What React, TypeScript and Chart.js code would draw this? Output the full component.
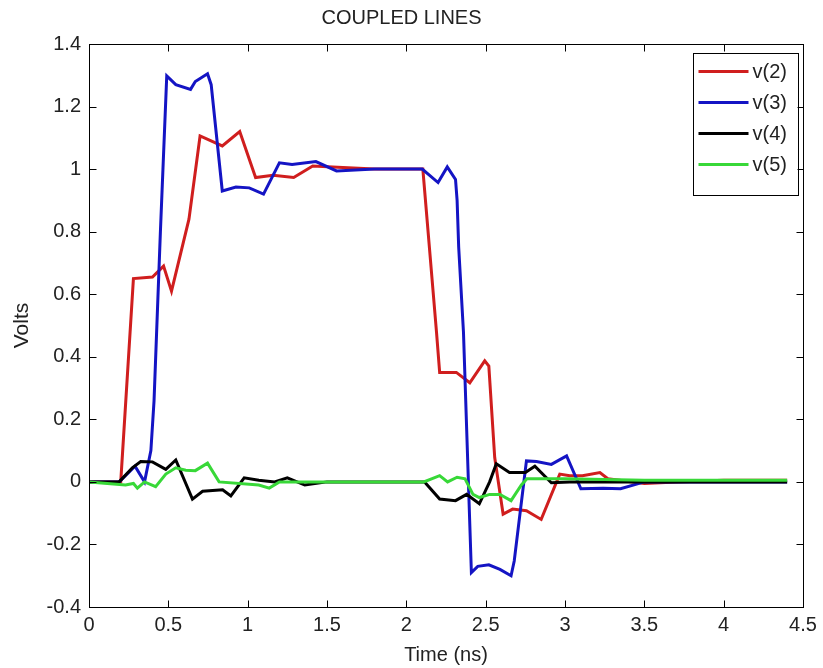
import React, { useEffect, useRef } from "react";
import { Chart, registerables } from "chart.js";

Chart.register(...registerables);

const chartTitle = "COUPLED LINES";
const xAxisLabel = "Time (ns)";
const yAxisLabel = "Volts";
const xTicksMin = 0;
const xTicksMax = 4.5;
const xTickStep = 0.5;
const yTicksMin = -0.4;
const yTicksMax = 1.4;
const yTickStep = 0.2;

const seriesNames = ["v(2)", "v(3)", "v(4)", "v(5)"];
const seriesColors = ["#d01e1e", "#1414c4", "#000000", "#38d838"];

const v2Time = [0, 0.2, 0.28, 0.4, 0.47, 0.52, 0.63, 0.7, 0.84, 0.95, 1.05, 1.16, 1.29, 1.41, 1.6, 1.8, 2.0, 2.104, 2.19, 2.21, 2.315, 2.4, 2.494, 2.52, 2.557, 2.61, 2.67, 2.757, 2.85, 2.967, 3.03, 3.11, 3.22, 3.27, 3.5, 3.7, 4.0, 4.4];
const v2Volts = [0, 0, 0.65, 0.655, 0.69, 0.61, 0.84, 1.106, 1.074, 1.12, 0.973, 0.98, 0.973, 1.01, 1.005, 1.0, 1.0, 1.0, 0.48, 0.35, 0.35, 0.317, 0.387, 0.37, 0.078, -0.103, -0.087, -0.092, -0.12, 0.025, 0.02, 0.02, 0.03, 0.01, -0.005, 0, 0.005, 0.005];

const v3Time = [0, 0.19, 0.29, 0.35, 0.39, 0.41, 0.45, 0.49, 0.547, 0.64, 0.67, 0.747, 0.77, 0.84, 0.926, 1.01, 1.1, 1.2, 1.28, 1.43, 1.56, 1.8, 2.1, 2.2, 2.258, 2.31, 2.32, 2.33, 2.36, 2.41, 2.45, 2.52, 2.59, 2.66, 2.68, 2.757, 2.82, 2.914, 3.01, 3.1, 3.24, 3.35, 3.5, 4.0, 4.4];
const v3Volts = [0, 0, 0.05, 0, 0.1, 0.26, 0.8, 1.298, 1.27, 1.255, 1.28, 1.305, 1.27, 0.93, 0.943, 0.94, 0.92, 1.02, 1.015, 1.024, 0.994, 1.0, 1.0, 0.957, 1.007, 0.967, 0.9, 0.75, 0.48, -0.29, -0.27, -0.265, -0.28, -0.3, -0.253, 0.067, 0.065, 0.056, 0.083, -0.022, -0.02, -0.022, 0, 0, 0];

const v4Time = [0, 0.19, 0.273, 0.326, 0.4, 0.484, 0.547, 0.652, 0.716, 0.842, 0.894, 0.978, 1.07, 1.17, 1.25, 1.36, 1.5, 2.115, 2.21, 2.31, 2.38, 2.46, 2.525, 2.567, 2.65, 2.75, 2.81, 2.914, 3.03, 3.5, 4.0, 4.4];
const v4Volts = [0, 0, 0.045, 0.065, 0.064, 0.04, 0.07, -0.055, -0.03, -0.025, -0.045, 0.013, 0.005, 0, 0.013, -0.01, 0, 0, -0.055, -0.06, -0.04, -0.07, 0, 0.058, 0.03, 0.03, 0.05, -0.003, 0, 0, 0, 0];

const v5Time = [0, 0.23, 0.28, 0.305, 0.35, 0.42, 0.484, 0.547, 0.61, 0.67, 0.747, 0.82, 1.07, 1.136, 1.2, 2.11, 2.21, 2.26, 2.32, 2.37, 2.42, 2.46, 2.525, 2.59, 2.66, 2.725, 2.76, 3.0, 3.5, 4.0, 4.4];
const v5Volts = [0, -0.01, -0.005, -0.02, 0, -0.015, 0.025, 0.045, 0.037, 0.036, 0.06, 0, -0.01, -0.02, 0, 0, 0.02, 0, 0.015, 0.01, -0.04, -0.05, -0.04, -0.04, -0.06, -0.01, 0.01, 0.01, 0.005, 0.005, 0.005];

const seriesTimes = [v2Time, v3Time, v4Time, v5Time];
const seriesVolts = [v2Volts, v3Volts, v4Volts, v5Volts];

const FONT = "'Liberation Sans', Arial, Helvetica, sans-serif";
const TEXT_COLOR = "#222222";

const fmt = (v: number) => String(Number(Number(v).toFixed(2)));

const boxAndLegendPlugin = {
  id: "boxAndLegend",
  afterDatasetsDraw(chart: any) {
    const { ctx, chartArea } = chart;
    const { left, right, top, bottom } = chartArea;
    const xs = chart.scales.x;
    const ys = chart.scales.y;
    ctx.save();
    ctx.strokeStyle = "#000";
    ctx.lineWidth = 1;
    const L = Math.round(left) + 0.5;
    const R = Math.round(right) + 0.5;
    const T = Math.round(top) + 0.5;
    const B = Math.round(bottom) + 0.5;
    ctx.strokeRect(L, T, R - L, B - T);
    const tl = 7;
    ctx.beginPath();
    xs.ticks.forEach((t: any) => {
      const px = Math.round(xs.getPixelForValue(t.value)) + 0.5;
      ctx.moveTo(px, B);
      ctx.lineTo(px, B - tl);
      ctx.moveTo(px, T);
      ctx.lineTo(px, T + tl);
    });
    ys.ticks.forEach((t: any) => {
      const py = Math.round(ys.getPixelForValue(t.value)) + 0.5;
      ctx.moveTo(L, py);
      ctx.lineTo(L + tl, py);
      ctx.moveTo(R, py);
      ctx.lineTo(R - tl, py);
    });
    ctx.stroke();

    // legend box
    const lgRight = R - 6;
    const lgLeft = lgRight - 105;
    const lgTop = T + 8;
    const rowH = 31;
    const firstRow = lgTop + 19;
    const lgBottom = firstRow + rowH * (seriesNames.length - 1) + 30;
    ctx.fillStyle = "#fff";
    ctx.fillRect(lgLeft, lgTop, lgRight - lgLeft, lgBottom - lgTop);
    ctx.strokeStyle = "#000";
    ctx.strokeRect(Math.round(lgLeft) + 0.5, Math.round(lgTop) + 0.5, Math.round(lgRight - lgLeft), Math.round(lgBottom - lgTop));
    ctx.font = `20px ${FONT}`;
    ctx.textBaseline = "middle";
    ctx.textAlign = "left";
    seriesNames.forEach((name, i) => {
      const y = firstRow + i * rowH;
      ctx.strokeStyle = seriesColors[i];
      ctx.lineWidth = 3;
      ctx.beginPath();
      ctx.moveTo(lgLeft + 6, y);
      ctx.lineTo(lgLeft + 56, y);
      ctx.stroke();
      ctx.fillStyle = TEXT_COLOR;
      ctx.fillText(name, lgLeft + 60, y + 1);
    });
    ctx.restore();
  },
};

export default function App() {
  const ref = useRef<HTMLCanvasElement | null>(null);
  useEffect(() => {
    if (!ref.current) return;
    const datasets = seriesNames.map((name, i) => ({
      label: name,
      data: seriesTimes[i].map((t, j) => ({ x: t, y: seriesVolts[i][j] })),
      borderColor: seriesColors[i],
      backgroundColor: seriesColors[i],
      borderWidth: 3,
      pointRadius: 0,
      tension: 0,
      fill: false,
      order: seriesNames.length - i,
    }));
    const chart = new Chart(ref.current, {
      type: "line",
      data: { datasets },
      plugins: [boxAndLegendPlugin],
      options: {
        animation: false,
        responsive: false,
        devicePixelRatio: 1,
        layout: { padding: { left: 0, right: 20, top: 0, bottom: 0 } },
        plugins: {
          legend: { display: false },
          tooltip: { enabled: false },
          title: {
            display: true,
            text: chartTitle,
            color: TEXT_COLOR,
            font: { family: FONT, size: 20, weight: "normal" },
            padding: { top: 6, bottom: 14 },
          },
        },
        scales: {
          x: {
            type: "linear",
            min: xTicksMin,
            max: xTicksMax,
            ticks: {
              stepSize: xTickStep,
              autoSkip: false,
              maxRotation: 0,
              padding: 6,
              color: TEXT_COLOR,
              font: { family: FONT, size: 20 },
              callback: (v: any) => fmt(v),
            },
            grid: { display: false, drawTicks: false },
            border: { display: false },
            title: {
              display: true,
              text: xAxisLabel,
              color: TEXT_COLOR,
              font: { family: FONT, size: 20 },
              padding: { top: 0, bottom: 1 },
            },
            afterFit: (s: any) => {
              s.height = 61;
            },
          },
          y: {
            type: "linear",
            min: yTicksMin,
            max: yTicksMax,
            ticks: {
              stepSize: yTickStep,
              autoSkip: false,
              padding: 8,
              color: TEXT_COLOR,
              font: { family: FONT, size: 20 },
              callback: (v: any) => fmt(v),
            },
            grid: { display: false, drawTicks: false },
            border: { display: false },
            title: {
              display: true,
              text: yAxisLabel,
              color: TEXT_COLOR,
              font: { family: FONT, size: 21 },
              padding: { top: 10, bottom: 0 },
            },
            afterFit: (s: any) => {
              s.width = 89;
            },
          },
        },
      },
    } as any);
    return () => chart.destroy();
  }, []);
  return (
    <div style={{ position: "fixed", left: 0, top: 0, width: 823, height: 668, background: "#fff" }}>
      <canvas ref={ref} width={823} height={668} style={{ display: "block", width: 823, height: 668 }} />
    </div>
  );
}
